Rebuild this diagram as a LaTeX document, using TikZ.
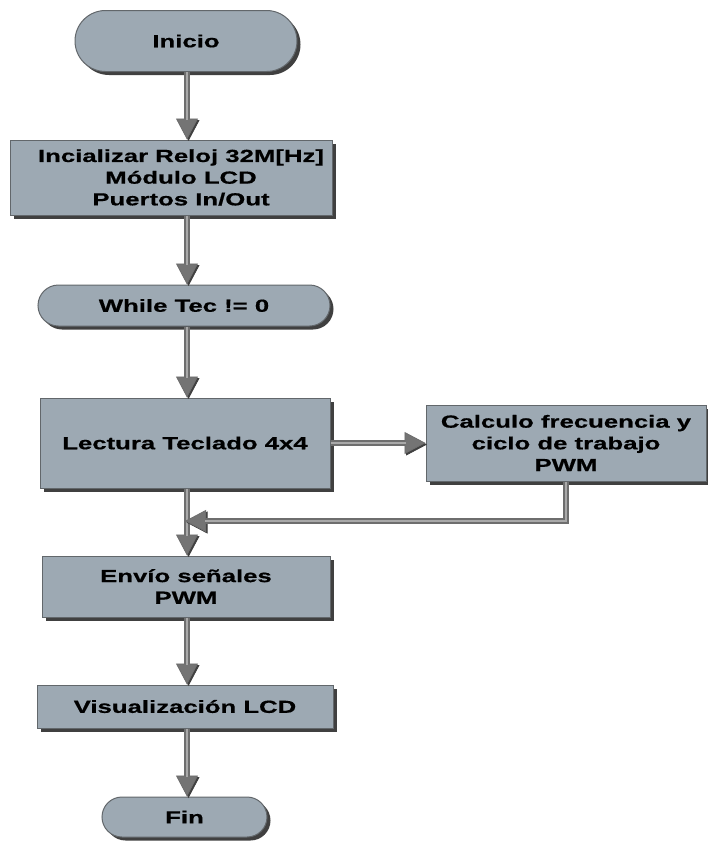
\documentclass[tikz,border=0pt]{standalone}
\usepackage{fontspec}
\newfontfamily\lblfont{Liberation Sans}[FakeStretch=1.47, BoldFeatures={FakeBold=0.6}]
\usetikzlibrary{shapes.misc,shadows,arrows.meta}
\definecolor{boxfill}{HTML}{9DA9B3}
\definecolor{boxline}{HTML}{62676B}
\definecolor{wire}{HTML}{6E6E6E}
\definecolor{wirecore}{HTML}{A9A9A9}
\definecolor{tipfill}{HTML}{747474}
\tikzset{
  lbl/.style={font=\lblfont\bfseries\fontsize{17.5}{21.7}\selectfont, align=center, text=black},
  block/.style={lbl, rectangle, draw=boxline, line width=1pt, fill=boxfill, inner sep=0pt,
    drop shadow={shadow xshift=3.5pt, shadow yshift=-3.5pt, fill=black, opacity=0.75}},
  terminal/.style={block, rounded rectangle},
  flow/.style={draw=wire, line width=5.5pt,
    -{Triangle[length=21pt, width=22pt, line width=0.8pt, fill=tipfill]},
    preaction={draw=black!75, -{Triangle[length=21pt, width=22pt, line width=0.8pt, fill=black!75]},
      transform canvas={xshift=1.5pt, yshift=-1.5pt}},
    postaction={draw=wirecore, line width=2.5pt, -, shorten >=20pt}},
}
\begin{document}
\begin{tikzpicture}[x=1pt, y=-1pt]
  \fill[white] (0,0) rectangle (708,846);
  \useasboundingbox (0,0) rectangle (708,846);

  % spine of the main flow
  \coordinate (spine) at (187,0);

  % blocks
  \node[terminal, minimum width=222pt, minimum height=61pt] (start) at (186,41) {Inicio};
  \node[block, minimum width=322pt, minimum height=75pt] (init) at (171,177.5) {};
  \node[lbl] (initText) at (181,177.5)
    {Incializar Reloj 32M[Hz]\\Módulo LCD\\Puertos In/Out};
  \node[terminal, minimum width=292pt, minimum height=41pt] (loop) at (184,305.5) {While Tec != 0};
  \node[block, minimum width=290pt, minimum height=90pt] (read) at (185,443) {Lectura Teclado 4x4};
  \node[block, minimum width=280pt, minimum height=76pt] (calc) at (566,443)
    {Calculo frecuencia y\\ciclo de trabajo\\PWM};
  \node[block, minimum width=288pt, minimum height=61pt] (send) at (186,586.5) {Envío señales\\PWM};
  \node[block, minimum width=296pt, minimum height=43pt] (show) at (185,706.5) {Visualización LCD};
  \node[terminal, minimum width=165pt, minimum height=40pt] (stop) at (184.5,817) {Fin};

  % connectors
  \coordinate (merge) at (185,521);
  \draw[flow] (start.south -| spine) -- (init.north -| spine);
  \draw[flow] (init.south -| spine) -- (loop.north -| spine);
  \draw[flow] (loop.south -| spine) -- (read.north -| spine);
  \draw[flow] (read.east) -- (calc.west);
  \draw[flow] (read.south -| spine) -- (send.north -| spine);
  \draw[flow] (calc.south) |- (merge);
  \draw[flow] (send.south -| spine) -- (show.north -| spine);
  \draw[flow] (show.south -| spine) -- (stop.north -| spine);
\end{tikzpicture}
\end{document}
